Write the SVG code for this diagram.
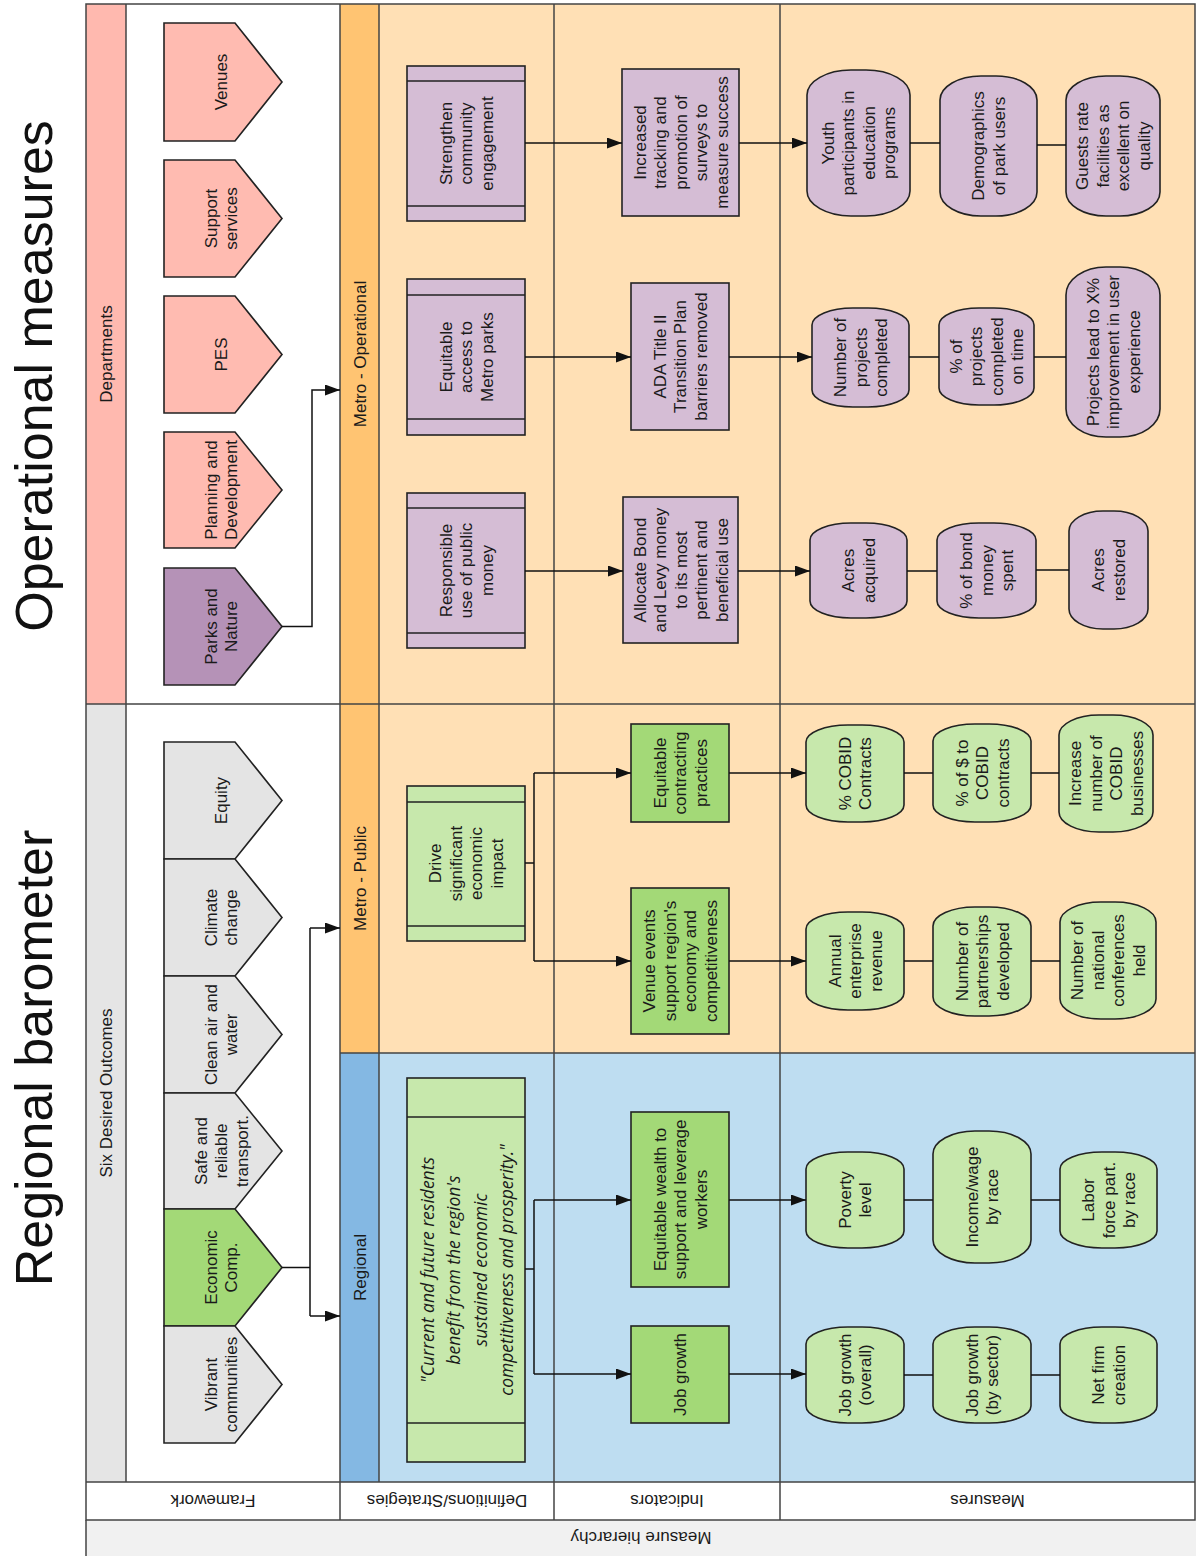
<svg xmlns="http://www.w3.org/2000/svg" width="1196" height="1556" viewBox="0 0 1196 1556">
<style>
.t{font-family:"Liberation Sans",Arial,sans-serif;font-size:17px;fill:#1a1a1a;text-anchor:middle}
.q{font-family:"Open Sans","Liberation Sans",sans-serif;font-size:17.5px;font-style:italic;fill:#1a1a1a;text-anchor:middle}
.title{font-family:"Liberation Sans",Arial,sans-serif;font-size:52px;fill:#111;text-anchor:middle}
.grid{stroke:#444;stroke-width:1.5;fill:none}
.n{stroke:#222;stroke-width:1.6}
.pink{fill:#FFBBB1}.purp{fill:#B592B7}.gray{fill:#E4E4E4}.green{fill:#A3D977}.lgreen{fill:#C7E8AC}.lpurp{fill:#D5BDD5}
.c{stroke:#111;stroke-width:1.5;fill:none}
.ca{stroke:#111;stroke-width:1.5;fill:none;marker-end:url(#ah)}
</style>
<defs>
<marker id="ah" markerUnits="userSpaceOnUse" markerWidth="15" markerHeight="11" refX="15" refY="5.5" viewBox="0 0 15 11" orient="auto"><path d="M0,0 L15,5.5 L0,11 z" fill="#111"/></marker>
</defs>
<rect x="0" y="0" width="1196" height="1556" fill="#fff"/>
<!-- titles -->
<text class="title" transform="translate(52,376) rotate(-90)">Operational measures</text>
<text class="title" transform="translate(52,1058) rotate(-90)">Regional barometer</text>
<!-- lanes -->
<g id="lanes">
<rect x="86" y="4" width="40" height="700" fill="#FFB9AF"/>
<rect x="86" y="704" width="40" height="778" fill="#E5E5E5"/>
<rect x="340" y="4" width="39" height="700" fill="#FFC472"/>
<rect x="379" y="4" width="816" height="700" fill="#FFE0B5"/>
<rect x="340" y="704" width="39" height="349" fill="#FFC472"/>
<rect x="379" y="704" width="816" height="349" fill="#FFE0B5"/>
<rect x="340" y="1053" width="39" height="429" fill="#84B8E3"/>
<rect x="379" y="1053" width="816" height="429" fill="#BEDDF1"/>
<rect x="86" y="1482" width="1109" height="38" fill="#fff"/>
<rect x="86" y="1520" width="1110" height="36" fill="#F1F1F1"/>
<rect class="grid" x="86" y="4" width="1109" height="1516"/>
<path class="grid" d="M126,4V1482 M340,4V1520 M379,4V1482 M554,4V1520 M780,4V1520 M86,704H1195 M340,1053H1195 M86,1482H1195 M86,1520V1556"/>
<text class="t" transform="translate(106,354) rotate(-90)" dy="6">Departments</text>
<text class="t" transform="translate(106,1093) rotate(-90)" dy="6">Six Desired Outcomes</text>
<text class="t" transform="translate(359.5,354) rotate(-90)" dy="6">Metro - Operational</text>
<text class="t" transform="translate(359.5,878.5) rotate(-90)" dy="6">Metro - Public</text>
<text class="t" transform="translate(359.5,1267.5) rotate(-90)" dy="6">Regional</text>
<text class="t" transform="translate(213,1501) rotate(180)" dy="6">Framework</text>
<text class="t" transform="translate(447,1501) rotate(180)" dy="6">Definitions/Strategies</text>
<text class="t" transform="translate(667,1501) rotate(180)" dy="6">Indicators</text>
<text class="t" transform="translate(987.5,1501) rotate(180)" dy="6">Measures</text>
<text class="t" transform="translate(641,1538) rotate(180)" dy="6">Measure hierarchy</text>
</g>
<!-- framework pentagons -->
<g id="venues"><path class="n pink" d="M164,23H235L282,82L235,141H164Z"/><text class="t" transform="translate(221,82) rotate(-90)"><tspan x="0" dy="6">Venues</tspan></text></g>
<g id="support"><path class="n pink" d="M164,160H235L282,218.5L235,277H164Z"/><text class="t" transform="translate(221,218.5) rotate(-90)"><tspan x="0" dy="-4.25">Support</tspan><tspan x="0" dy="20.5">services</tspan></text></g>
<g id="pes"><path class="n pink" d="M164,296H235L282,354.5L235,413H164Z"/><text class="t" transform="translate(221,354.5) rotate(-90)"><tspan x="0" dy="6">PES</tspan></text></g>
<g id="planning"><path class="n pink" d="M164,432H235L282,490L235,548H164Z"/><text class="t" transform="translate(221,490) rotate(-90)"><tspan x="0" dy="-4.25">Planning and</tspan><tspan x="0" dy="20.5">Development</tspan></text></g>
<g id="parks"><path class="n purp" d="M164,568H235L282,626.5L235,685H164Z"/><text class="t" transform="translate(221,626.5) rotate(-90)"><tspan x="0" dy="-4.25">Parks and</tspan><tspan x="0" dy="20.5">Nature</tspan></text></g>
<g id="equity"><path class="n gray" d="M164,742H235L282,800.5L235,859H164Z"/><text class="t" transform="translate(221,800.5) rotate(-90)"><tspan x="0" dy="6">Equity</tspan></text></g>
<g id="climate"><path class="n gray" d="M164,859H235L282,917.5L235,976H164Z"/><text class="t" transform="translate(221,917.5) rotate(-90)"><tspan x="0" dy="-4.25">Climate</tspan><tspan x="0" dy="20.5">change</tspan></text></g>
<g id="cleanair"><path class="n gray" d="M164,976H235L282,1034.5L235,1093H164Z"/><text class="t" transform="translate(221,1034.5) rotate(-90)"><tspan x="0" dy="-4.25">Clean air and</tspan><tspan x="0" dy="20.5">water</tspan></text></g>
<g id="safe"><path class="n gray" d="M164,1093H235L282,1151L235,1209H164Z"/><text class="t" transform="translate(221,1151) rotate(-90)"><tspan x="0" dy="-14.5">Safe and</tspan><tspan x="0" dy="20.5">reliable</tspan><tspan x="0" dy="20.5">transport.</tspan></text></g>
<g id="economic"><path class="n green" d="M164,1209H235L282,1267.5L235,1326H164Z"/><text class="t" transform="translate(221,1267.5) rotate(-90)"><tspan x="0" dy="-4.25">Economic</tspan><tspan x="0" dy="20.5">Comp.</tspan></text></g>
<g id="vibrant"><path class="n gray" d="M164,1326H235L282,1384.5L235,1443H164Z"/><text class="t" transform="translate(221,1384.5) rotate(-90)"><tspan x="0" dy="-4.25">Vibrant</tspan><tspan x="0" dy="20.5">communities</tspan></text></g>
<!-- strategies -->
<g id="strengthen"><rect class="n lpurp" x="407" y="66" width="118" height="155"/><path class="n" d="M407,81H525M407,206H525"/><text class="t" transform="translate(466,143.5) rotate(-90)"><tspan x="0" dy="-14.5">Strengthen</tspan><tspan x="0" dy="20.5">community</tspan><tspan x="0" dy="20.5">engagement</tspan></text></g>
<g id="eqaccess"><rect class="n lpurp" x="407" y="279" width="118" height="156"/><path class="n" d="M407,295H525M407,419H525"/><text class="t" transform="translate(466,357) rotate(-90)"><tspan x="0" dy="-14.5">Equitable</tspan><tspan x="0" dy="20.5">access to</tspan><tspan x="0" dy="20.5">Metro parks</tspan></text></g>
<g id="responsible"><rect class="n lpurp" x="407" y="493" width="118" height="155"/><path class="n" d="M407,508H525M407,633H525"/><text class="t" transform="translate(466,570.5) rotate(-90)"><tspan x="0" dy="-14.5">Responsible</tspan><tspan x="0" dy="20.5">use of public</tspan><tspan x="0" dy="20.5">money</tspan></text></g>
<g id="drive"><rect class="n lgreen" x="407" y="786" width="118" height="155"/><path class="n" d="M407,802H525M407,926H525"/><text class="t" transform="translate(466,863.5) rotate(-90)"><tspan x="0" dy="-24.75">Drive</tspan><tspan x="0" dy="20.5">significant</tspan><tspan x="0" dy="20.5">economic</tspan><tspan x="0" dy="20.5">impact</tspan></text></g>
<g id="quote"><rect class="n lgreen" x="407" y="1078" width="118" height="384"/><path class="n" d="M407,1117H525M407,1423H525"/><text class="q" transform="translate(467,1270) rotate(-90)"><tspan x="0" dy="-33.5">"Current and future residents</tspan><tspan x="0" dy="26.5">benefit from the region's</tspan><tspan x="0" dy="26.5">sustained economic</tspan><tspan x="0" dy="26.5">competitiveness and prosperity."</tspan></text></g>
<!-- indicators -->
<g id="increased"><rect class="n lpurp" x="622" y="69" width="117" height="147"/><text class="t" transform="translate(680.5,142.5) rotate(-90)"><tspan x="0" dy="-35">Increased</tspan><tspan x="0" dy="20.5">tracking and</tspan><tspan x="0" dy="20.5">promotion of</tspan><tspan x="0" dy="20.5">surveys to</tspan><tspan x="0" dy="20.5">measure success</tspan></text></g>
<g id="ada"><rect class="n lpurp" x="631" y="283" width="98" height="147"/><text class="t" transform="translate(680,356.5) rotate(-90)"><tspan x="0" dy="-14.5">ADA Title II</tspan><tspan x="0" dy="20.5">Transition Plan</tspan><tspan x="0" dy="20.5">barriers removed</tspan></text></g>
<g id="allocate"><rect class="n lpurp" x="623" y="497" width="115" height="146"/><text class="t" transform="translate(680.5,570) rotate(-90)"><tspan x="0" dy="-35">Allocate  Bond</tspan><tspan x="0" dy="20.5">and Levy money</tspan><tspan x="0" dy="20.5">to its most</tspan><tspan x="0" dy="20.5">pertinent and</tspan><tspan x="0" dy="20.5">beneficial use</tspan></text></g>
<g id="eqcontract"><rect class="n green" x="631" y="724" width="98" height="98"/><text class="t" transform="translate(680,773) rotate(-90)"><tspan x="0" dy="-14.5">Equitable</tspan><tspan x="0" dy="20.5">contracting</tspan><tspan x="0" dy="20.5">practices</tspan></text></g>
<g id="venueevents"><rect class="n green" x="631" y="888" width="98" height="146"/><text class="t" transform="translate(680,961) rotate(-90)"><tspan x="0" dy="-24.75">Venue events</tspan><tspan x="0" dy="20.5">support region's</tspan><tspan x="0" dy="20.5">economy and</tspan><tspan x="0" dy="20.5">competitiveness</tspan></text></g>
<g id="eqwealth"><rect class="n green" x="631" y="1112" width="98" height="175"/><text class="t" transform="translate(680,1199.5) rotate(-90)"><tspan x="0" dy="-14.5">Equitable wealth to</tspan><tspan x="0" dy="20.5">support and leverage</tspan><tspan x="0" dy="20.5">workers</tspan></text></g>
<g id="jobgrowth"><rect class="n green" x="631" y="1326" width="98" height="97"/><text class="t" transform="translate(680,1374.5) rotate(-90)"><tspan x="0" dy="6">Job growth</tspan></text></g>
<!-- measures -->
<g id="youth"><rect class="n lpurp" x="807" y="70" width="103" height="146" rx="44" ry="25"/><text class="t" transform="translate(858.5,143) rotate(-90)"><tspan x="0" dy="-24.75">Youth</tspan><tspan x="0" dy="20.5">participants in</tspan><tspan x="0" dy="20.5">education</tspan><tspan x="0" dy="20.5">programs</tspan></text></g>
<g id="demog"><rect class="n lpurp" x="940" y="76" width="97" height="140" rx="41" ry="24"/><text class="t" transform="translate(988.5,146) rotate(-90)"><tspan x="0" dy="-4.25">Demographics</tspan><tspan x="0" dy="20.5">of park users</tspan></text></g>
<g id="guests"><rect class="n lpurp" x="1066" y="76" width="94" height="140" rx="40" ry="24"/><text class="t" transform="translate(1113,146) rotate(-90)"><tspan x="0" dy="-24.75">Guests rate</tspan><tspan x="0" dy="20.5">facilities as</tspan><tspan x="0" dy="20.5">excellent on</tspan><tspan x="0" dy="20.5">quality</tspan></text></g>
<g id="numproj"><rect class="n lpurp" x="812" y="308" width="97" height="99" rx="41" ry="17"/><text class="t" transform="translate(860.5,357.5) rotate(-90)"><tspan x="0" dy="-14.5">Number of</tspan><tspan x="0" dy="20.5">projects</tspan><tspan x="0" dy="20.5">completed</tspan></text></g>
<g id="pctproj"><rect class="n lpurp" x="939" y="308" width="95" height="97" rx="40" ry="17"/><text class="t" transform="translate(986.5,356.5) rotate(-90)"><tspan x="0" dy="-24.75">% of</tspan><tspan x="0" dy="20.5">projects</tspan><tspan x="0" dy="20.5">completed</tspan><tspan x="0" dy="20.5">on time</tspan></text></g>
<g id="projlead"><rect class="n lpurp" x="1066" y="267" width="94" height="170" rx="40" ry="28"/><text class="t" transform="translate(1113,352) rotate(-90)"><tspan x="0" dy="-14.5">Projects lead to X%</tspan><tspan x="0" dy="20.5">improvement in user</tspan><tspan x="0" dy="20.5">experience</tspan></text></g>
<g id="acresacq"><rect class="n lpurp" x="810" y="523" width="97" height="95" rx="41" ry="17"/><text class="t" transform="translate(858.5,570.5) rotate(-90)"><tspan x="0" dy="-4.25">Acres</tspan><tspan x="0" dy="20.5">acquired</tspan></text></g>
<g id="pctbond"><rect class="n lpurp" x="937" y="523" width="99" height="95" rx="42" ry="17"/><text class="t" transform="translate(986.5,570.5) rotate(-90)"><tspan x="0" dy="-14.5">% of bond</tspan><tspan x="0" dy="20.5">money</tspan><tspan x="0" dy="20.5">spent</tspan></text></g>
<g id="acresrest"><rect class="n lpurp" x="1069" y="511" width="79" height="118" rx="34" ry="20"/><text class="t" transform="translate(1108.5,570) rotate(-90)"><tspan x="0" dy="-4.25">Acres</tspan><tspan x="0" dy="20.5">restored</tspan></text></g>
<g id="pctcobid"><rect class="n lgreen" x="806" y="725" width="98" height="97" rx="42" ry="17"/><text class="t" transform="translate(855,773.5) rotate(-90)"><tspan x="0" dy="-4.25">% COBID</tspan><tspan x="0" dy="20.5">Contracts</tspan></text></g>
<g id="pctdollar"><rect class="n lgreen" x="933" y="724" width="98" height="98" rx="42" ry="17"/><text class="t" transform="translate(982,773) rotate(-90)"><tspan x="0" dy="-14.5">% of $ to</tspan><tspan x="0" dy="20.5">COBID</tspan><tspan x="0" dy="20.5">contracts</tspan></text></g>
<g id="increasecobid"><rect class="n lgreen" x="1059" y="715" width="94" height="117" rx="40" ry="20"/><text class="t" transform="translate(1106,773.5) rotate(-90)"><tspan x="0" dy="-24.75">Increase</tspan><tspan x="0" dy="20.5">number of</tspan><tspan x="0" dy="20.5">COBID</tspan><tspan x="0" dy="20.5">businesses</tspan></text></g>
<g id="annual"><rect class="n lgreen" x="806" y="912" width="98" height="98" rx="42" ry="17"/><text class="t" transform="translate(855,961) rotate(-90)"><tspan x="0" dy="-14.5">Annual</tspan><tspan x="0" dy="20.5">enterprise</tspan><tspan x="0" dy="20.5">revenue</tspan></text></g>
<g id="partnerships"><rect class="n lgreen" x="933" y="907" width="98" height="109" rx="42" ry="19"/><text class="t" transform="translate(982,961.5) rotate(-90)"><tspan x="0" dy="-14.5">Number of</tspan><tspan x="0" dy="20.5">partnerships</tspan><tspan x="0" dy="20.5">developed</tspan></text></g>
<g id="conferences"><rect class="n lgreen" x="1060" y="902" width="96" height="117" rx="41" ry="20"/><text class="t" transform="translate(1108,960.5) rotate(-90)"><tspan x="0" dy="-24.75">Number of</tspan><tspan x="0" dy="20.5">national</tspan><tspan x="0" dy="20.5">conferences</tspan><tspan x="0" dy="20.5">held</tspan></text></g>
<g id="poverty"><rect class="n lgreen" x="806" y="1152" width="98" height="96" rx="42" ry="17"/><text class="t" transform="translate(855,1200) rotate(-90)"><tspan x="0" dy="-4.25">Poverty</tspan><tspan x="0" dy="20.5">level</tspan></text></g>
<g id="income"><rect class="n lgreen" x="933" y="1131" width="98" height="132" rx="42" ry="23"/><text class="t" transform="translate(982,1197) rotate(-90)"><tspan x="0" dy="-4.25">Income/wage</tspan><tspan x="0" dy="20.5">by race</tspan></text></g>
<g id="labor"><rect class="n lgreen" x="1060" y="1152" width="97" height="96" rx="42" ry="17"/><text class="t" transform="translate(1108.5,1200) rotate(-90)"><tspan x="0" dy="-14.5">Labor</tspan><tspan x="0" dy="20.5">force part.</tspan><tspan x="0" dy="20.5">by race</tspan></text></g>
<g id="jobover"><rect class="n lgreen" x="806" y="1327" width="98" height="96" rx="42" ry="17"/><text class="t" transform="translate(855,1375) rotate(-90)"><tspan x="0" dy="-4.25">Job growth</tspan><tspan x="0" dy="20.5">(overall)</tspan></text></g>
<g id="jobsector"><rect class="n lgreen" x="933" y="1327" width="98" height="96" rx="42" ry="17"/><text class="t" transform="translate(982,1375) rotate(-90)"><tspan x="0" dy="-4.25">Job growth</tspan><tspan x="0" dy="20.5">(by sector)</tspan></text></g>
<g id="netfirm"><rect class="n lgreen" x="1060" y="1327" width="97" height="96" rx="42" ry="17"/><text class="t" transform="translate(1108.5,1375) rotate(-90)"><tspan x="0" dy="-4.25">Net firm</tspan><tspan x="0" dy="20.5">creation</tspan></text></g>
<!-- connectors -->
<g id="connectors">
<path class="ca" d="M282,626.5H312V390H340"/>
<path class="c" d="M282,1267.5H310 M310,928V1316"/>
<path class="ca" d="M310,928H340"/>
<path class="ca" d="M310,1316H340"/>
<path class="ca" d="M525,143H622"/>
<path class="ca" d="M525,357H631"/>
<path class="ca" d="M525,571H623"/>
<path class="c" d="M525,863H534 M534,773V961"/>
<path class="ca" d="M534,773H631"/>
<path class="ca" d="M534,961H631"/>
<path class="c" d="M525,1269H534 M534,1200V1374"/>
<path class="ca" d="M534,1200H631"/>
<path class="ca" d="M534,1374H631"/>
<path class="ca" d="M739,143H807"/>
<path class="ca" d="M729,357H812"/>
<path class="ca" d="M738,571H810"/>
<path class="ca" d="M729,773H806"/>
<path class="ca" d="M729,961H806"/>
<path class="ca" d="M729,1200H806"/>
<path class="ca" d="M729,1374H806"/>
<path class="c" d="M910,143H940 M1037,145H1066 M909,357H939 M1034,357H1066 M907,571H937 M1036,570H1069 M904,773H933 M1031,773H1059 M904,961H933 M1031,961H1060 M904,1200H933 M1031,1200H1060 M904,1375H933 M1031,1375H1060"/>
</g>
</svg>
